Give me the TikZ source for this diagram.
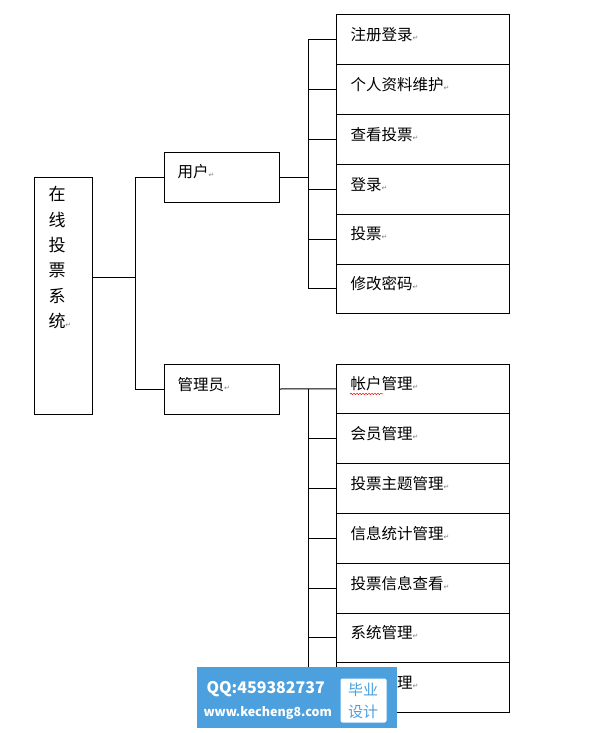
\documentclass[tikz,border=0pt]{standalone}
\usepackage{fontspec}
\setmainfont{Noto Sans CJK SC}
\newfontfamily\symbfont{DejaVu Sans}
\newfontfamily\wmfont{Noto Sans CJK SC}
\usetikzlibrary{calc}
\usetikzlibrary{positioning}
\usetikzlibrary{decorations.pathmorphing}

\definecolor{wmblue}{RGB}{75,160,221}
\newcommand{\pmark}{{\color{gray}\symbfont\fontsize{7}{7}\selectfont ↵}}

\begin{document}
\begin{tikzpicture}[x=1pt,y=-1pt,line width=1pt,
   box/.style={draw,rectangle,inner sep=0pt,outer sep=0pt,anchor=north west},
   mid/.style={box,minimum width=115pt,minimum height=50pt},
   leaf/.style={box,minimum width=173pt,minimum height=49.8pt},
   tag/.style={anchor=west,inner sep=0pt,font=\fontsize{15.5}{18}\selectfont}]
\useasboundingbox (0,0) rectangle (593,733);

% root
\node[box,minimum width=58pt,minimum height=237pt] (sys) at (34,177) {};
\node[anchor=north west,inner sep=0pt,align=left,
   font=\fontsize{17}{25.4}\selectfont] (syst) at (48,186) {在\\线\\投\\票\\系\\统\pmark};
\coordinate (sysout) at (92,277);
\coordinate (j0) at (135,277);

% second level
\node[mid] (user) at (164,152) {};
\node[tag] (usert) at ($(user.west)+(13,-5)$) {用户\pmark};
\node[mid] (admin) at (164,364) {};
\node[tag] (admint) at ($(admin.west)+(13,-4)$) {管理员\pmark};

% user functions
\node[leaf] (u1) at (336,15) {};
\node[leaf,below=0pt of u1] (u2) {};
\node[leaf,below=0pt of u2] (u3) {};
\node[leaf,below=0pt of u3] (u4) {};
\node[leaf,below=0pt of u4] (u5) {};
\node[leaf,below=0pt of u5] (u6) {};
\node[tag] (u1t) at ($(u1.west)+(14,-5)$) {注册登录\pmark};
\node[tag] (u2t) at ($(u2.west)+(14,-5)$) {个人资料维护\pmark};
\node[tag] (u3t) at ($(u3.west)+(14,-5)$) {查看投票\pmark};
\node[tag] (u4t) at ($(u4.west)+(14,-5)$) {登录\pmark};
\node[tag] (u5t) at ($(u5.west)+(14,-5)$) {投票\pmark};
\node[tag] (u6t) at ($(u6.west)+(14,-5)$) {修改密码\pmark};
\coordinate (j1) at (308,0);

% admin functions
\node[leaf] (a1) at (336,364) {};
\node[leaf,below=0pt of a1] (a2) {};
\node[leaf,below=0pt of a2] (a3) {};
\node[leaf,below=0pt of a3] (a4) {};
\node[leaf,below=0pt of a4] (a5) {};
\node[leaf,below=0pt of a5] (a6) {};
\node[leaf,below=0pt of a6] (a7) {};
\node[tag] (a1t) at ($(a1.west)+(14,-5)$) {帐户管理\pmark};
\node[tag] (a2t) at ($(a2.west)+(14,-5)$) {会员管理\pmark};
\node[tag] (a3t) at ($(a3.west)+(14,-5)$) {投票主题管理\pmark};
\node[tag] (a4t) at ($(a4.west)+(14,-5)$) {信息统计管理\pmark};
\node[tag] (a5t) at ($(a5.west)+(14,-5)$) {投票信息查看\pmark};
\node[tag] (a6t) at ($(a6.west)+(14,-5)$) {系统管理\pmark};
\node[tag] (a7t) at ($(a7.west)+(14,-5)$) {日志管理\pmark};
\draw[red,line width=0.5pt,decorate,decoration={snake,amplitude=0.7pt,segment length=3pt}]
   ($(a1.west)+(14,5)$) -- ++(33,0);

% connectors
\draw (sysout) -- (j0);
\draw (j0 |- user.west) -- (j0 |- admin.west);
\draw (j0 |- user.west) -- (user.west);
\draw (j0 |- admin.west) -- (admin.west);

\draw (user.east) -- (j1 |- user.east);
\draw (j1 |- u1.west) -- (j1 |- u6.west);
\draw (j1 |- u1.west) -- (u1.west);
\draw (j1 |- u2.west) -- (u2.west);
\draw (j1 |- u3.west) -- (u3.west);
\draw (j1 |- u4.west) -- (u4.west);
\draw (j1 |- u5.west) -- (u5.west);
\draw (j1 |- u6.west) -- (u6.west);

\draw (admin.east) -- (a1.west);
\draw (j1 |- a1.west) -- (j1 |- a7.west);
\draw (j1 |- a2.west) -- (a2.west);
\draw (j1 |- a3.west) -- (a3.west);
\draw (j1 |- a4.west) -- (a4.west);
\draw (j1 |- a5.west) -- (a5.west);
\draw (j1 |- a6.west) -- (a6.west);
\draw (j1 |- a7.west) -- (a7.west);

% watermark
\node[fill=wmblue,inner sep=0pt,anchor=north west,minimum width=200pt,minimum height=61pt] (wm) at (196,666) {};
\node[anchor=west,inner sep=0pt,text=white,font=\wmfont\bfseries\fontsize{16}{16}\selectfont] (wmqq) at (206,689) {QQ:459382737};
\node[anchor=west,inner sep=0pt,text=white,font=\wmfont\bfseries\fontsize{12.5}{12.5}\selectfont] (wmweb) at (203,713) {www.kecheng8.com};
\node[fill=white,rounded corners=2pt,inner sep=0pt,anchor=north west,minimum width=46pt,minimum height=44pt] (wmtag) at (340,678) {};
\node[inner sep=0pt,text=wmblue,font=\wmfont\fontsize{15}{15}\selectfont] (wmbi) at (363,690) {毕业};
\node[inner sep=0pt,text=wmblue,font=\wmfont\fontsize{15}{15}\selectfont] (wmsj) at (363,712) {设计};
\end{tikzpicture}
\end{document}
